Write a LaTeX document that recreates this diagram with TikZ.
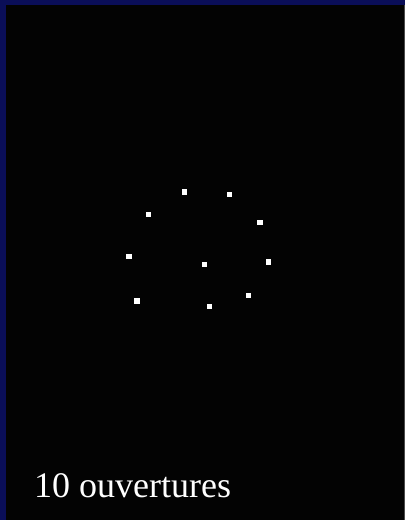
\documentclass[tikz,border=0pt]{standalone}
\usepackage{fontspec}
\setmainfont{Liberation Serif}
\begin{document}
\begin{tikzpicture}[x=1pt,y=-1pt]
        % Define dot and frame properties
        \def\dotsize{2.6}
        \def\framew{405}
        \def\frameh{520}
        
        % Frame color (navy) and screen color (black)
        \definecolor{frame}{RGB}{10, 14, 88}
        \definecolor{screen}{RGB}{3, 3, 3}
        \tikzset{hole/.style={fill=white}}
        
        % Background with navy band on top and left
        \useasboundingbox (0,0) rectangle (\framew,\frameh);
        \fill[frame] (0,0) rectangle (\framew,\frameh);
        \fill[screen] (6,5) rectangle (\framew,\frameh);
        \fill[gray!60!black] (\framew-1,5) rectangle (\framew,\frameh);
        
        % The ten openings
        \foreach \px/\py in {184.7/192, 229.3/194.7, 148.3/214.3, 260/222.7, 129/256.3,
                             204.3/264.7, 268.3/262, 248.7/295.3, 137/301, 209.7/306.3}
            \fill[hole] (\px-\dotsize,\py-\dotsize) rectangle (\px+\dotsize,\py+\dotsize);
        
        % Caption
        \node[anchor=base west, inner sep=0pt, text=white,
              font=\fontsize{36}{40}\selectfont] (caption) at (34,497) {10 ouvertures};
    \end{tikzpicture}
\end{document}
